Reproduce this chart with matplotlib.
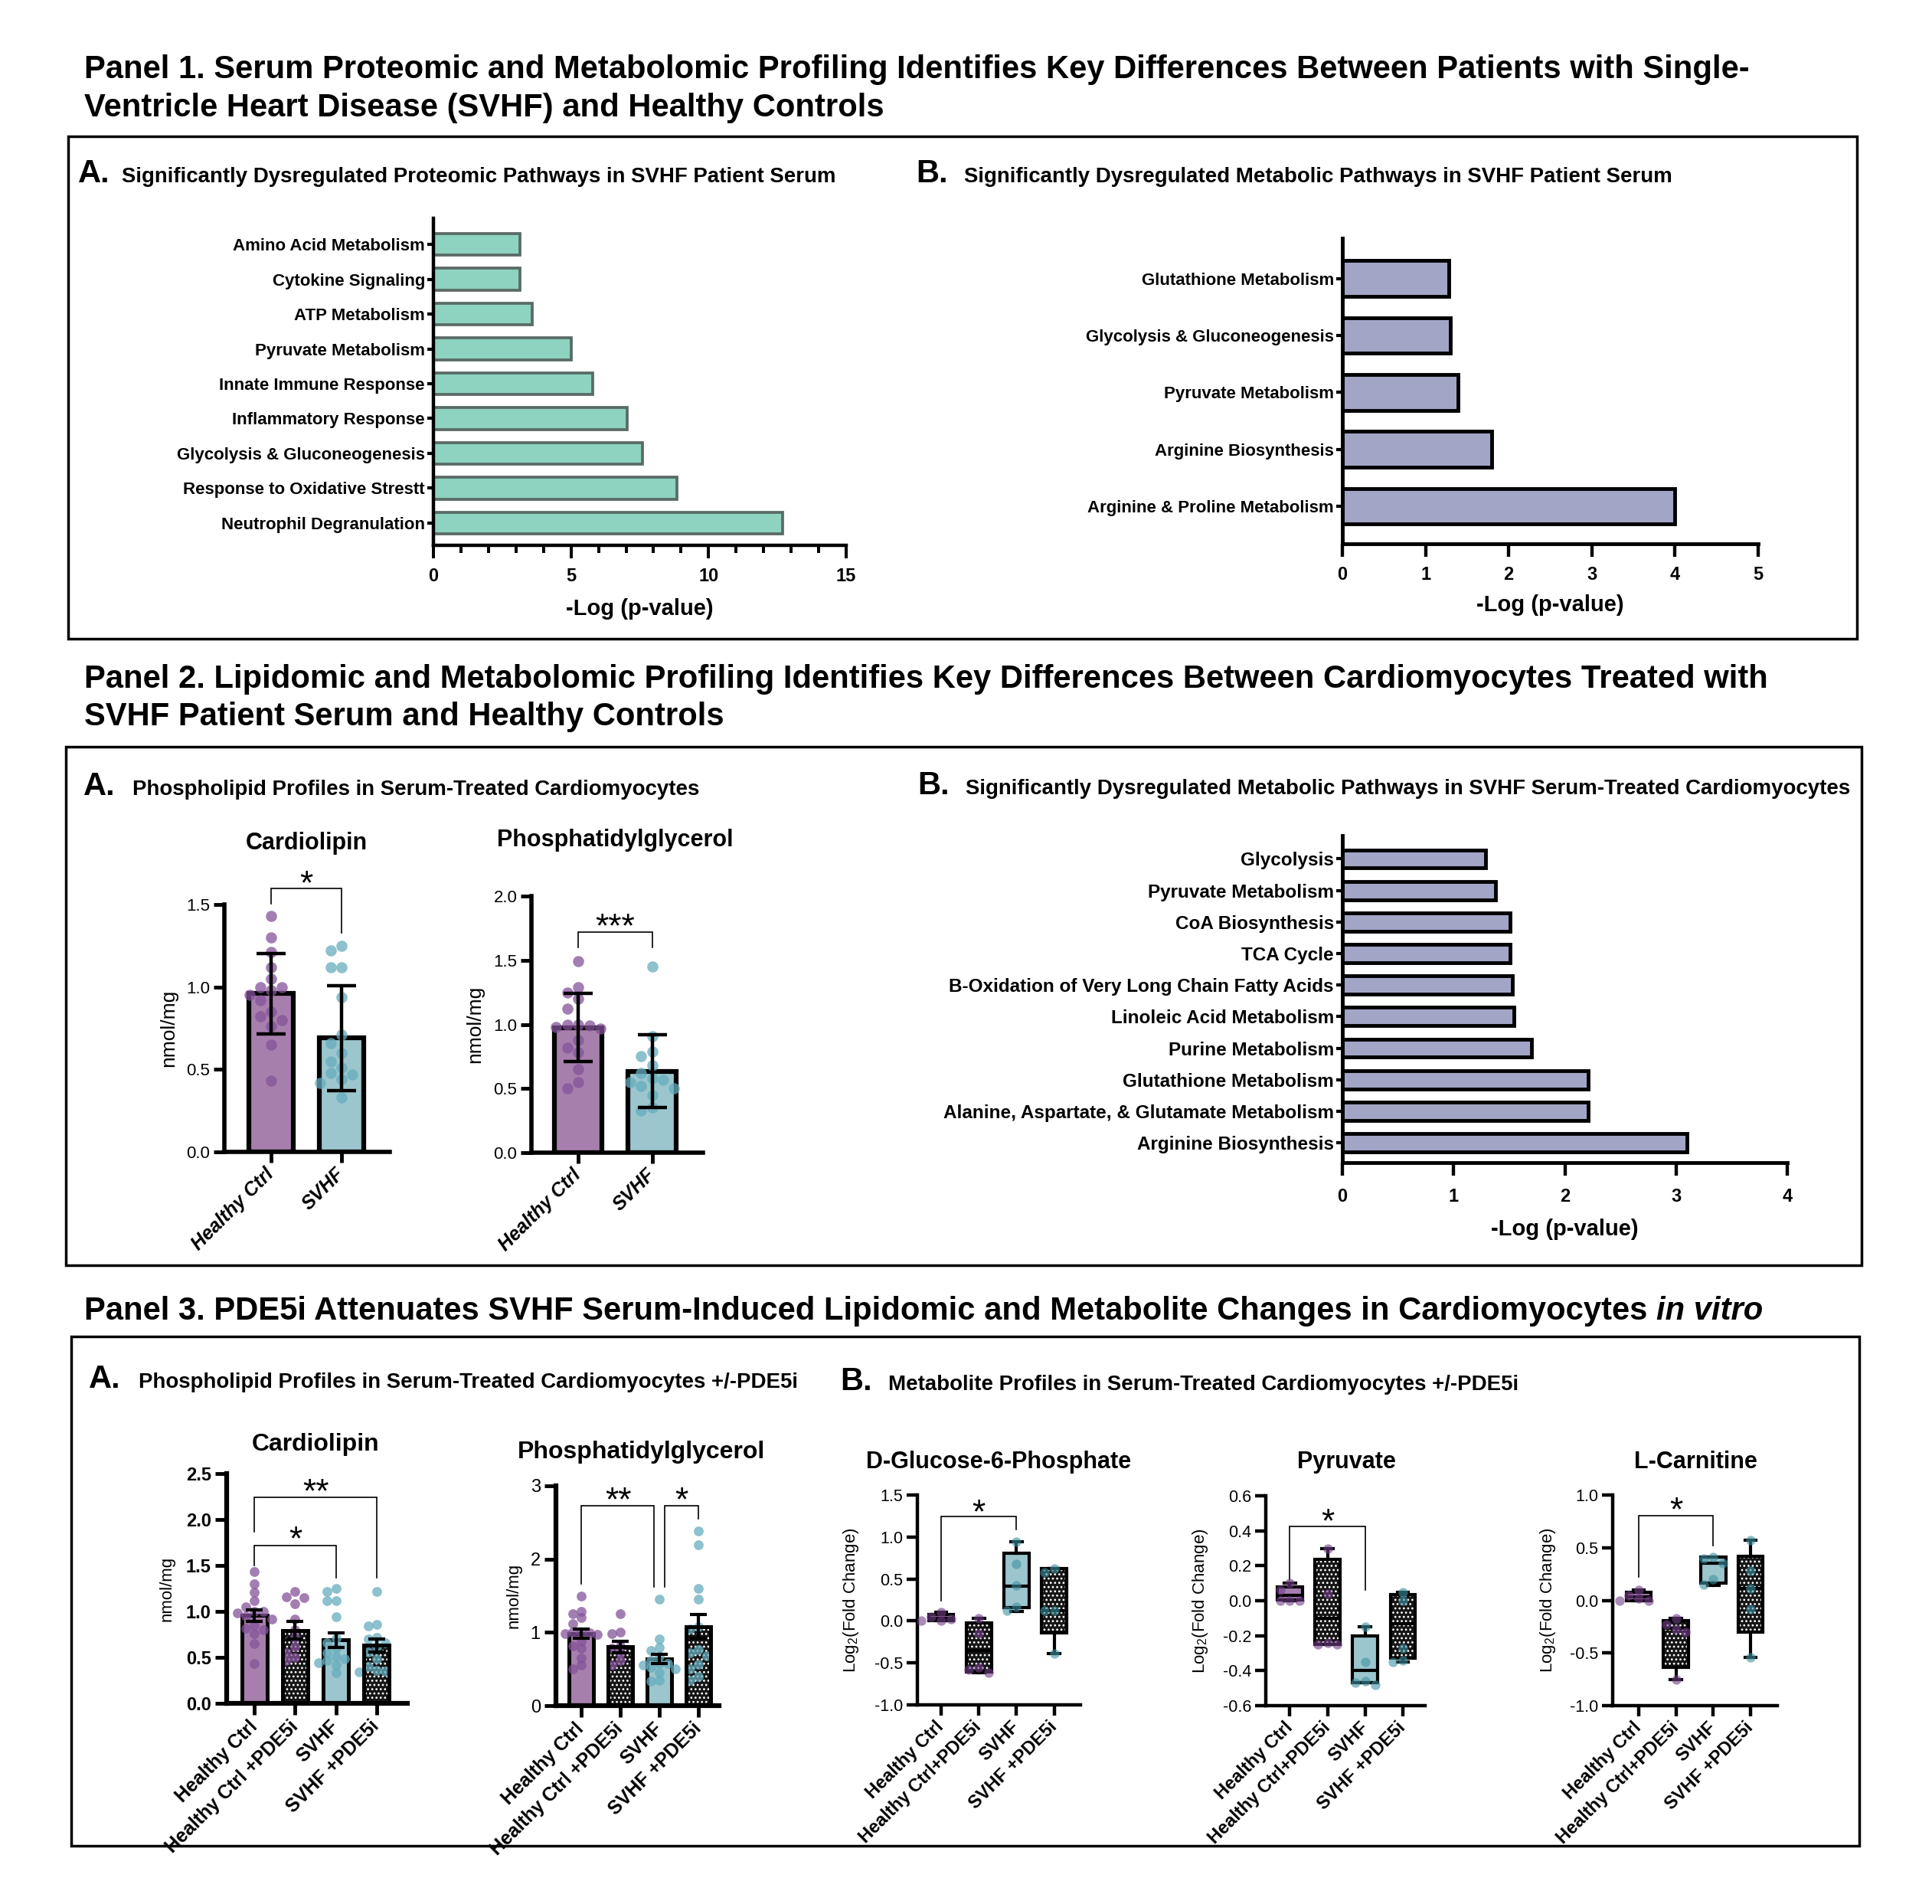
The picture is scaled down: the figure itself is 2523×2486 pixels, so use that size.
import matplotlib
matplotlib.use('Agg')
import numpy as np
import matplotlib.pyplot as plt
from matplotlib.patches import Rectangle
from matplotlib.ticker import MultipleLocator, FormatStrFormatter

plt.rcParams['font.family'] = ['Liberation Sans', 'DejaVu Sans']
plt.rcParams['axes.unicode_minus'] = False
plt.rcParams['mathtext.fontset'] = 'custom'
plt.rcParams['mathtext.rm'] = 'Liberation Sans'
plt.rcParams['hatch.linewidth'] = 1.2

# ---------------- data ----------------
# Panel 1A - proteomic pathways (-log p)
p1a_labels = ['Amino Acid Metabolism', 'Cytokine Signaling', 'ATP Metabolism',
              'Pyruvate Metabolism', 'Innate Immune Response', 'Inflammatory Response',
              'Glycolysis & Gluconeogenesis', 'Response to Oxidative Strestt',
              'Neutrophil Degranulation']
p1a_values = [3.15, 3.15, 3.6, 5.0, 5.8, 7.05, 7.6, 8.85, 12.7]

# Panel 1B - metabolic pathways in serum
p1b_labels = ['Glutathione Metabolism', 'Glycolysis & Gluconeogenesis', 'Pyruvate Metabolism',
              'Arginine Biosynthesis', 'Arginine & Proline Metabolism']
p1b_values = [1.28, 1.30, 1.39, 1.80, 4.00]

# Panel 2B - metabolic pathways in treated cardiomyocytes
p2b_labels = ['Glycolysis', 'Pyruvate Metabolism', 'CoA Biosynthesis', 'TCA Cycle',
              'B-Oxidation of Very Long Chain Fatty Acids', 'Linoleic Acid Metabolism',
              'Purine Metabolism', 'Glutathione Metabolism',
              'Alanine, Aspartate, & Glutamate Metabolism', 'Arginine Biosynthesis']
p2b_values = [1.29, 1.38, 1.51, 1.51, 1.53, 1.54, 1.70, 2.21, 2.21, 3.10]

# Panel 2A - phospholipids (mean +/- SD)
groups2 = ['Healthy Ctrl', 'SVHF']
cl_hc = [1.43, 1.30, 1.21, 1.12, 1.05, 1.00, 1.00, 0.98, 0.95, 0.92, 0.85, 0.82, 0.80, 0.76, 0.65, 0.43]
cl_svhf = [1.25, 1.22, 1.12, 1.12, 0.94, 0.71, 0.66, 0.60, 0.55, 0.51, 0.48, 0.47, 0.44, 0.42, 0.33]
cl2_mean = [0.96, 0.69]
cl2_sd = [0.245, 0.32]
pg_hc = [1.49, 1.29, 1.25, 1.20, 1.12, 1.00, 1.00, 0.99, 0.98, 0.97, 0.88, 0.82, 0.78, 0.65, 0.55, 0.50]
pg_svhf = [1.45, 0.91, 0.79, 0.75, 0.68, 0.62, 0.58, 0.57, 0.55, 0.52, 0.50, 0.45, 0.35, 0.33]
pg2_mean = [0.975, 0.635]
pg2_sd = [0.265, 0.285]

# Panel 3A - phospholipids +/- PDE5i (mean +/- SEM)
groups4 = ['Healthy Ctrl', 'Healthy Ctrl +PDE5i', 'SVHF', 'SVHF +PDE5i']
cl_hc_p = [1.22, 1.16, 1.15, 1.08, 0.92, 0.80, 0.72, 0.62, 0.55, 0.50, 0.47]
cl_svhf_p = [1.22, 0.86, 0.84, 0.72, 0.70, 0.66, 0.62, 0.56, 0.48, 0.40, 0.36, 0.35, 0.34]
cl3_mean = [0.955, 0.795, 0.69, 0.63]
cl3_sem = [0.06, 0.095, 0.08, 0.07]
pg_hc_p = [1.25, 1.00, 0.98, 0.82, 0.78, 0.72, 0.62, 0.55]
pg_svhf_p = [2.38, 2.20, 1.60, 1.45, 1.08, 1.05, 0.76, 0.72, 0.68, 0.56, 0.50, 0.40, 0.34]
pg3_mean = [0.985, 0.80, 0.64, 1.08]
pg3_sem = [0.06, 0.075, 0.065, 0.165]

# Panel 3B - metabolites, log2 fold change (min / q1 / median / q3 / max + points)
groups4b = ['Healthy Ctrl', 'Healthy Ctrl+PDE5i', 'SVHF', 'SVHF +PDE5i']
g6p_min = [0.00, -0.62, 0.11, -0.39]
g6p_q1 = [0.00, -0.61, 0.16, -0.14]
g6p_med = [0.03, -0.35, 0.41, 0.12]
g6p_q3 = [0.08, -0.02, 0.81, 0.62]
g6p_max = [0.10, 0.03, 0.94, 0.62]
g6p_pts = [[0.10, 0.05, 0.02, 0.0, 0.0], [0.03, -0.15, -0.55, -0.58, -0.62],
           [0.94, 0.68, 0.42, 0.17, 0.12], [0.62, 0.58, 0.12, 0.12, -0.39]]

pyr_min = [0.00, -0.25, -0.47, -0.35]
pyr_q1 = [0.005, -0.25, -0.47, -0.33]
pyr_med = [0.03, -0.10, -0.40, -0.13]
pyr_q3 = [0.08, 0.235, -0.20, 0.035]
pyr_max = [0.10, 0.30, -0.15, 0.05]
pyr_pts = [[0.10, 0.06, 0.0, 0.0, 0.0], [0.30, 0.04, -0.24, -0.25, -0.25],
           [-0.15, -0.35, -0.46, -0.47, -0.48], [0.05, 0.0, -0.27, -0.34, -0.35]]

lc_min = [0.00, -0.75, 0.14, -0.54]
lc_q1 = [0.00, -0.635, 0.165, -0.30]
lc_med = [0.03, -0.265, 0.35, 0.11]
lc_q3 = [0.075, -0.19, 0.41, 0.42]
lc_max = [0.10, -0.17, 0.41, 0.57]
lc_pts = [[0.10, 0.05, 0.02, 0.0, 0.0], [-0.17, -0.23, -0.27, -0.30, -0.75],
          [0.41, 0.40, 0.35, 0.20, 0.15], [0.57, 0.28, 0.11, -0.08, -0.54]]

# ---------------- colours ----------------
MINT, MINT_EDGE = '#8dd3bf', '#5a6b66'
LAV = '#a3a5c6'
PURPLE_BAR, TEAL_BAR = '#a77fad', '#9cc6cd'
PURPLE_DOT, TEAL_DOT = '#84539a', '#66adbd'
DARK = '#151515'
STAR_FS = 32

# ---------------- figure helpers ----------------
W, H = 2523, 2486
fig = plt.figure(figsize=(W / 100, H / 100), dpi=100)
renderer = fig.canvas.get_renderer()


def fx(x):
    return x / W


def fy(y):
    return 1 - y / H


def axpx(l, t, r, b):
    ax = fig.add_axes([fx(l), fy(b), (r - l) / W, (b - t) / H])
    ax.rect_px = (l, t, r, b)
    return ax


def text_px(x, y, s, **kw):
    return fig.text(fx(x), fy(y), s, **kw)


def fit_width(t, width):
    w = t.get_window_extent(renderer).width
    t.set_fontsize(t.get_fontsize() * width / w)
    return t


def frame(l, t, r, b):
    fig.add_artist(Rectangle((fx(l), fy(b)), (r - l) / W, (b - t) / H, transform=fig.transFigure,
                             fill=False, lw=2.5, ec='black'))


def ylabel_px(ax, x, s, size):
    l, t, r, b = ax.rect_px
    ax.text((x - l) / (r - l), 0.5, s, transform=ax.transAxes, rotation=90,
            ha='center', va='center', fontsize=size)


def clean(ax, lw):
    ax.spines['top'].set_visible(False)
    ax.spines['right'].set_visible(False)
    ax.spines['left'].set_linewidth(lw)
    ax.spines['bottom'].set_linewidth(lw)


def spread(vals, dx, thr):
    vals = np.asarray(vals, float)
    off = np.zeros(len(vals))
    done = []
    for i in np.argsort(-vals):
        near = [off[j] for j in done if abs(vals[j] - vals[i]) < thr]
        for k in [0, -1, 1, -2, 2, -3, 3]:
            if all(abs(k * dx - o) > dx / 2 for o in near):
                break
        off[i] = k * dx
        done.append(i)
    return off


def bracket(ax, x0, x1, y0, top, y1, stars, star_y, sx=None, fs=STAR_FS):
    ax.plot([x0, x0, x1, x1], [y0, top, top, y1], color='black', lw=1.2, clip_on=False,
            solid_joinstyle='miter')
    sx = (x0 + x1) / 2 if sx is None else sx
    ax.annotate(stars, (sx, star_y), xytext=(0, -0.56 * fs), textcoords='offset points',
                ha='center', va='baseline', fontsize=fs, annotation_clip=False)


def hbar(ax, labels, values, color, edge, elw, height, xmax, major, minor, ylim, lw,
         tick_len, pad, labelpad, label_fs=16):
    pos = np.arange(len(labels))
    ax.barh(pos, values, height=height, color=color, edgecolor=edge, linewidth=elw)
    ax.set_yticks(pos)
    ax.set_yticklabels(labels, fontsize=label_fs, fontweight='bold')
    ax.set_xlim(0, xmax)
    ax.set_ylim(*ylim)
    ax.xaxis.set_major_locator(MultipleLocator(major))
    if minor:
        ax.xaxis.set_minor_locator(MultipleLocator(minor))
        ax.tick_params(axis='x', which='minor', length=tick_len * 0.6, width=lw * 0.9)
    ax.xaxis.set_major_formatter(FormatStrFormatter('%d'))
    clean(ax, lw)
    ax.tick_params(axis='x', which='major', length=tick_len, width=lw * 0.9, labelsize=17, pad=pad)
    ax.tick_params(axis='y', length=6, width=3, pad=2)
    for lab in ax.get_xticklabels():
        lab.set_fontweight('bold')
    ax.set_xlabel('-Log (p-value)', fontsize=21, fontweight='bold', labelpad=labelpad)


def bar_dots(ax, means, errs, pts, fills, dots, hatched, width, edge_lw, elw, cap, dot_s, dx, thr):
    pos = np.arange(len(means))
    for i in pos:
        if hatched[i]:
            ax.bar(i, means[i], width, color=DARK, edgecolor='white', hatch='...', linewidth=0, zorder=1)
            ax.bar(i, means[i], width, fill=False, edgecolor='black', linewidth=edge_lw, zorder=3)
        else:
            ax.bar(i, means[i], width, color=fills[i], edgecolor='black', linewidth=edge_lw, zorder=1)
        off = spread(pts[i], dx, thr)
        ax.scatter(i + off, pts[i], s=dot_s, color=dots[i], alpha=0.75, linewidths=0, zorder=2)
    ax.errorbar(pos, means, yerr=errs, fmt='none', ecolor='black', elinewidth=elw,
                capsize=cap, capthick=elw, zorder=4)
    ax.set_xticks(pos)


def box_dots(ax, mins, q1s, meds, q3s, maxs, pts, fills, dots, hatched, width):
    pos = np.arange(len(mins))
    for i in pos:
        if hatched[i]:
            ax.bar(i, q3s[i] - q1s[i], width, bottom=q1s[i], color=DARK, edgecolor='white',
                   hatch='...', linewidth=0, zorder=1)
    stats = [dict(whislo=a, q1=b, med=c, q3=d, whishi=e, fliers=[])
             for a, b, c, d, e in zip(mins, q1s, meds, q3s, maxs)]
    bp = ax.bxp(stats, positions=pos, widths=width, patch_artist=True, showfliers=False,
                capwidths=0.3, manage_ticks=False,
                boxprops=dict(linewidth=3, edgecolor='black'),
                medianprops=dict(color='black', linewidth=3),
                whiskerprops=dict(color='black', linewidth=3),
                capprops=dict(color='black', linewidth=3))
    for i, b in enumerate(bp['boxes']):
        b.set_facecolor('none' if hatched[i] else fills[i])
    for i in pos:
        off = spread(pts[i], 0.26, 0.04 * (ax.get_ylim()[1] - ax.get_ylim()[0]))
        ax.scatter(i + off, pts[i], s=80, color=dots[i], alpha=0.6, linewidths=0, zorder=4)
    ax.set_xticks(pos)


# ---------------- frames & headings ----------------
frame(89, 178, 2425, 834)
frame(86, 975, 2431, 1652)
frame(93, 1745, 2428, 2410)

t1 = text_px(110, 101.7, 'Panel 1. Serum Proteomic and Metabolomic Profiling Identifies Key Differences '
             'Between Patients with Single-', fontsize=26, fontweight='bold', va='baseline')
fit_width(t1, 2172)
HFS = t1.get_fontsize()
text_px(110, 151.7, 'Ventricle Heart Disease (SVHF) and Healthy Controls', fontsize=HFS,
        fontweight='bold', va='baseline')
text_px(110, 898, 'Panel 2. Lipidomic and Metabolomic Profiling Identifies Key Differences Between '
        'Cardiomyocytes Treated with', fontsize=HFS, fontweight='bold', va='baseline')
text_px(110, 946.7, 'SVHF Patient Serum and Healthy Controls', fontsize=HFS, fontweight='bold',
        va='baseline')
t3 = text_px(110, 1722.7, 'Panel 3. PDE5i Attenuates SVHF Serum-Induced Lipidomic and Metabolite '
             'Changes in Cardiomyocytes', fontsize=HFS, fontweight='bold', va='baseline')
x_end = t3.get_window_extent(renderer).x1 + 0.28 * HFS * 100 / 72
fig.text(x_end / W, fy(1722.7), 'in vitro', fontsize=HFS, fontweight='bold', fontstyle='italic',
         va='baseline')

subs = [(102, 159, 238, 933, 'A.', 'Significantly Dysregulated Proteomic Pathways in SVHF Patient Serum'),
        (1196, 1259, 238, 925, 'B.', 'Significantly Dysregulated Metabolic Pathways in SVHF Patient Serum'),
        (109, 173, 1038, 740, 'A.', 'Phospholipid Profiles in Serum-Treated Cardiomyocytes'),
        (1198, 1261, 1037, 1156, 'B.', 'Significantly Dysregulated Metabolic Pathways in SVHF Serum-Treated Cardiomyocytes'),
        (116, 181, 1812, 862, 'A.', 'Phospholipid Profiles in Serum-Treated Cardiomyocytes +/-PDE5i'),
        (1097, 1160, 1815, 824, 'B.', 'Metabolite Profiles in Serum-Treated Cardiomyocytes +/-PDE5i')]
for xl, xt, yb, wt, letter, s in subs:
    text_px(xl, yb, letter, fontsize=30, fontweight='bold', va='baseline')
    fit_width(text_px(xt, yb, s, fontsize=18, fontweight='bold', va='baseline'), wt)

# ---------------- Panel 1 ----------------
ax = axpx(566, 285, 1105, 712)
hbar(ax, p1a_labels, p1a_values, MINT, MINT_EDGE, 2.7, 0.62, 15, 5, 1, (8.64, -0.75), 3.2, 12, 9, 12)

ax = axpx(1753, 311, 2296, 710)
hbar(ax, p1b_labels, p1b_values, LAV, 'black', 3.5, 0.63, 5, 1, None, (4.66, -0.71), 3.5, 12, 9, 10)

# ---------------- Panel 2 ----------------
ax = axpx(1753, 1091, 2334, 1518)
hbar(ax, p2b_labels, p2b_values, LAV, 'black', 3.5, 0.58, 4, 1, None, (9.63, -0.74), 3.5, 12, 12, 12,
     label_fs=17.5)

for rect, xl, ylim, step, mean, sd, pts, width, title, tx, tyb, br, yl_x in [
        ((293, 1181, 509, 1504), (-0.663, 1.685), 1.5, 0.5, cl2_mean, cl2_sd, [cl_hc, cl_svhf], 0.625,
         'Cardiolipin', 400, 1109, (1.506, 1.597, 1.33, '*', 1.68), 220),
        ((694, 1170, 918, 1505), (-0.636, 1.69), 2.0, 0.5, pg2_mean, pg2_sd, [pg_hc, pg_svhf], 0.645,
         'Phosphatidylglycerol', 803, 1105, (1.60, 1.72, 1.60, '***', 1.83), 620)]:
    ax = axpx(*rect)
    bar_dots(ax, mean, sd, pts, [PURPLE_BAR, TEAL_BAR], [PURPLE_DOT, TEAL_DOT], [False, False],
             width, 4.5, 3.2, 14, 110, 0.15, 0.045 * ylim)
    ax.set_xlim(*xl)
    ax.set_ylim(0, ylim)
    ax.yaxis.set_major_locator(MultipleLocator(step))
    ax.yaxis.set_major_formatter(FormatStrFormatter('%.1f'))
    clean(ax, 4)
    ax.tick_params(axis='both', length=10, width=3.5, labelsize=16)
    ax.set_xticklabels(groups2, rotation=45, ha='right', va='center', rotation_mode='anchor',
                       fontsize=18, fontweight='bold', fontstyle='italic')
    ax.tick_params(axis='x', pad=8)
    ylabel_px(ax, yl_x, 'nmol/mg', 19)
    text_px(tx, tyb, title, fontsize=22, fontweight='bold', ha='center', va='baseline')
    bracket(ax, 0, 1, br[0], br[1], br[2], br[3], br[4])

# ---------------- Panel 3A ----------------
hatch4 = [False, True, False, True]
fills4 = [PURPLE_BAR, DARK, TEAL_BAR, DARK]
dots4 = [PURPLE_DOT, PURPLE_DOT, TEAL_DOT, TEAL_DOT]

ax = axpx(296, 1924, 532, 2224)
bar_dots(ax, cl3_mean, cl3_sem, [cl_hc, cl_hc_p, cl_svhf, cl_svhf_p], fills4, dots4, hatch4,
         0.62, 3.6, 3.0, 8, 85, 0.21, 0.08)
ax.set_xlim(-0.686, 3.76)
ax.set_ylim(0, 2.5)
ax.yaxis.set_major_locator(MultipleLocator(0.5))
ax.yaxis.set_major_formatter(FormatStrFormatter('%.1f'))
clean(ax, 4.5)
ax.tick_params(axis='both', length=11, width=3.5, labelsize=17)
for lab in ax.get_yticklabels():
    lab.set_fontweight('bold')
ax.set_xticklabels(groups4, rotation=45, ha='right', va='center', rotation_mode='anchor',
                   fontsize=18, fontweight='bold')
ax.tick_params(axis='x', pad=8)
ylabel_px(ax, 218, 'nmol/mg', 16)
text_px(412, 1894, 'Cardiolipin', fontsize=23, fontweight='bold', ha='center', va='baseline')
bracket(ax, 0, 2, 1.50, 1.716, 1.37, '*', 1.88)
bracket(ax, 0, 3, 1.87, 2.24, 1.37, '**', 2.40)

ax = axpx(726, 1940, 939, 2227)
bar_dots(ax, pg3_mean, pg3_sem, [pg_hc, pg_hc_p, pg_svhf, pg_svhf_p], fills4, dots4, hatch4,
         0.64, 3.6, 3.0, 8, 85, 0.21, 0.09)
ax.set_xlim(-0.647, 3.53)
ax.set_ylim(0, 3)
ax.yaxis.set_major_locator(MultipleLocator(1))
clean(ax, 4.5)
ax.tick_params(axis='both', length=11, width=3.5, labelsize=17)
ax.set_xticklabels(groups4, rotation=45, ha='right', va='center', rotation_mode='anchor',
                   fontsize=18, fontweight='bold')
ax.tick_params(axis='x', pad=8)
ylabel_px(ax, 671, 'nmol/mg', 16)
text_px(837, 1904, 'Phosphatidylglycerol', fontsize=23, fontweight='bold', ha='center', va='baseline')
bracket(ax, 0, 1.87, 1.66, 2.73, 1.62, '**', 2.92, sx=0.95)
bracket(ax, 2.13, 3, 1.62, 2.73, 2.55, '*', 2.92, sx=2.56)

# ---------------- Panel 3B ----------------
box_fills = [PURPLE_BAR, DARK, TEAL_BAR, DARK]
box_dots_c = ['#74408a', '#74408a', '#3f93a3', '#3f93a3']
for rect, xl, ylim, step, stats, pts, title, tx, br, yl_x in [
        ((1198, 1952, 1411, 2226), (-0.63, 3.70), (-1, 1.5), 0.5,
         (g6p_min, g6p_q1, g6p_med, g6p_q3, g6p_max), g6p_pts, 'D-Glucose-6-Phosphate', 1304,
         (0.245, 1.24, 1.085, 1.40), 1112),
        ((1653, 1953, 1861, 2227), (-0.64, 3.59), (-0.6, 0.6), 0.2,
         (pyr_min, pyr_q1, pyr_med, pyr_q3, pyr_max), pyr_pts, 'Pyruvate', 1758,
         (0.117, 0.425, 0.06, 0.50), 1567),
        ((2106, 1952, 2321, 2227), (-0.70, 3.72), (-1, 1), 0.5,
         (lc_min, lc_q1, lc_med, lc_q3, lc_max), lc_pts, 'L-Carnitine', 2214,
         (0.22, 0.805, 0.52, 0.94), 2022)]:
    ax = axpx(*rect)
    ax.set_ylim(*ylim)
    box_dots(ax, *stats, pts, box_fills, box_dots_c, hatch4, 0.67)
    ax.set_xlim(*xl)
    ax.set_ylim(*ylim)
    ax.yaxis.set_major_locator(MultipleLocator(step))
    ax.yaxis.set_major_formatter(FormatStrFormatter('%.1f'))
    clean(ax, 3.2)
    ax.tick_params(axis='both', length=10, width=3.2, labelsize=15.5)
    ax.set_xticklabels(groups4b, rotation=45, ha='right', va='center', rotation_mode='anchor',
                       fontsize=17, fontweight='bold')
    ax.tick_params(axis='x', pad=8)
    ylabel_px(ax, yl_x, r'Log$_{\mathregular{2}}$(Fold Change)', 16)
    text_px(tx, 1917, title, fontsize=22, fontweight='bold', ha='center', va='baseline')
    bracket(ax, 0, 2, br[0], br[1], br[2], '*', br[3])

fig.savefig('out.png', dpi=100, facecolor='white')
